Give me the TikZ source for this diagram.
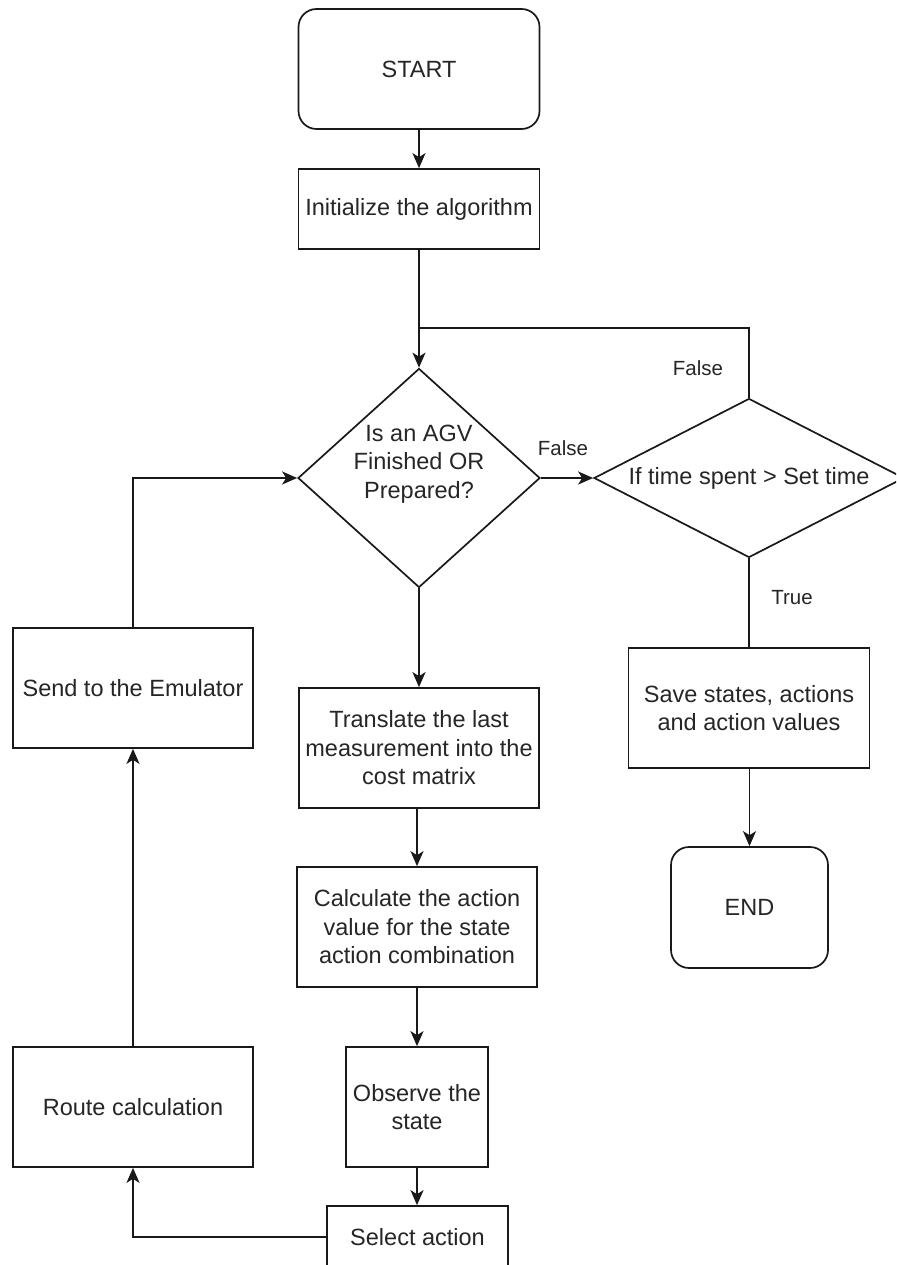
\documentclass[tikz,border=0pt]{standalone}
\usepackage{fontspec}
\setmainfont{Liberation Sans}
\usetikzlibrary{shapes.geometric,arrows.meta}

\tikzset{
  base/.style={draw=black!90, line width=1.7pt, fill=white, inner sep=0pt,
    align=center, text=black!85, font=\fontsize{23.5}{28.5}\selectfont},
  procbox/.style={base, rectangle},
  termbox/.style={base, rectangle, rounded corners=18pt},
  decision/.style={base, diamond, shape aspect=1},
  txt/.style={inner sep=0pt, align=center, text=black!85, font=\fontsize{23.5}{28.5}\selectfont},
  edgelabel/.style={inner sep=0pt, text=black!85, font=\fontsize{20.5}{24}\selectfont},
  flow/.style={draw=black!90, line width=1.7pt},
  arrow/.style={flow, -{Stealth[length=15pt,width=13pt,inset=4pt]}}
}

\begin{document}
\begin{tikzpicture}[x=1pt,y=-1pt]
  \clip (0,0) rectangle (896,1265);
  \fill[white] (0,0) rectangle (896,1265);

  % main column
  \node[termbox, minimum width=241pt, minimum height=120pt] (start) at (419,69) {START};
  \node[procbox, minimum width=241pt, minimum height=80pt] (init) at (419,209) {Initialize the algorithm};
  \node[decision, minimum width=242pt, minimum height=219pt] (d1) at (419,478) {};
  \node[txt] (d1t) at (419,464) {Is an AGV\\Finished OR\\Prepared?};
  \node[procbox, minimum width=240pt, minimum height=120pt] (trans) at (419,748)
    {Translate the last\\measurement into the\\cost matrix};
  \node[procbox, minimum width=240pt, minimum height=120pt] (calc) at (417,927)
    {Calculate the action\\value for the state\\action combination};
  \node[procbox, minimum width=142pt, minimum height=120pt] (obs) at (417,1107) {Observe the\\state};
  \node[procbox, minimum width=181pt, minimum height=62pt] (sel) at (417.5,1237) {Select action};

  % left column
  \node[procbox, minimum width=240pt, minimum height=120pt] (send) at (133,688) {Send to the Emulator};
  \node[procbox, minimum width=240pt, minimum height=120pt] (route) at (133,1107) {Route calculation};

  % right column (the decision's right tip runs past the page edge)
  \node[decision, minimum width=310pt, minimum height=159pt] (d2) at (749,478) {};
  \node[txt] (d2t) at (749,478) {If time spent > Set time};
  \node[procbox, minimum width=241pt, minimum height=120pt] (save) at (749,708)
    {Save states, actions\\and action values};
  \node[termbox, minimum width=157pt, minimum height=121pt] (finish) at (749.5,907.5) {END};

  % connectors
  \coordinate (join) at (419,328);
  \draw[arrow] (start) -- (init);
  \draw[arrow] (init) -- (d1);
  \draw[flow] (d2.north) |- (join);
  \draw[arrow] (d1.east) -- (d2.west);
  \draw[flow] (d2.south) -- (save.north);
  \draw[arrow] (save.south -| finish.north) -- (finish.north);
  \draw[arrow] (d1.south) -- (trans.north);
  \draw[arrow] (trans.south -| calc.north) -- (calc.north);
  \draw[arrow] (calc) -- (obs);
  \draw[arrow] (obs.south) -- (obs.south |- sel.north);
  \draw[arrow] (sel.west) -| (route.south);
  \draw[arrow] (route) -- (send);
  \draw[arrow] (send.north) |- (d1.west);

  % branch labels
  \node[edgelabel] (lf1) at (563,448) {False};
  \node[edgelabel] (lf2) at (698,368) {False};
  \node[edgelabel] (lt) at (792,598) {True};
\end{tikzpicture}
\end{document}
